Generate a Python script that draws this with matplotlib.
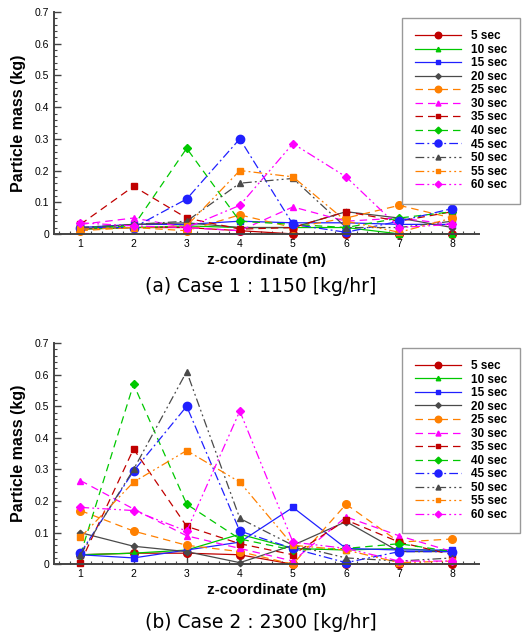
import matplotlib
matplotlib.use("Agg")
import matplotlib.pyplot as plt
from matplotlib.ticker import MultipleLocator

plt.rcParams["font.family"] = ["Liberation Sans", "DejaVu Sans"]

z = [1, 2, 3, 4, 5, 6, 7, 8]
labels = ["5 sec", "10 sec", "15 sec", "20 sec", "25 sec", "30 sec",
          "35 sec", "40 sec", "45 sec", "50 sec", "55 sec", "60 sec"]

# Case 1 : 1150 kg/hr
case1 = [
    [0.015, 0.020, 0.020, 0.010, 0.000, 0.000, 0.000, 0.000],
    [0.015, 0.020, 0.025, 0.020, 0.020, 0.020, 0.000, 0.000],
    [0.020, 0.030, 0.030, 0.040, 0.035, 0.035, 0.030, 0.030],
    [0.015, 0.030, 0.035, 0.020, 0.020, 0.070, 0.050, 0.020],
    [0.010, 0.020, 0.010, 0.060, 0.020, 0.050, 0.090, 0.050],
    [0.030, 0.050, 0.020, 0.010, 0.085, 0.040, 0.050, 0.030],
    [0.030, 0.150, 0.050, 0.015, 0.020, 0.070, 0.040, 0.070],
    [0.020, 0.025, 0.270, 0.040, 0.030, 0.020, 0.050, 0.070],
    [0.020, 0.020, 0.110, 0.300, 0.030, 0.005, 0.040, 0.080],
    [0.020, 0.030, 0.040, 0.160, 0.175, 0.020, 0.020, 0.040],
    [0.015, 0.020, 0.025, 0.200, 0.180, 0.040, 0.005, 0.050],
    [0.035, 0.025, 0.020, 0.090, 0.285, 0.180, 0.020, 0.030],
]

# Case 2 : 2300 kg/hr
case2 = [
    [0.030, 0.035, 0.035, 0.030, 0.000, 0.000, 0.000, 0.000],
    [0.030, 0.035, 0.045, 0.095, 0.050, 0.045, 0.050, 0.040],
    [0.030, 0.020, 0.045, 0.070, 0.180, 0.050, 0.045, 0.045],
    [0.100, 0.057, 0.040, 0.005, 0.060, 0.135, 0.040, 0.040],
    [0.170, 0.105, 0.060, 0.040, 0.000, 0.190, 0.070, 0.080],
    [0.265, 0.175, 0.090, 0.050, 0.010, 0.150, 0.090, 0.040],
    [0.005, 0.365, 0.120, 0.065, 0.030, 0.140, 0.070, 0.030],
    [0.030, 0.570, 0.190, 0.080, 0.045, 0.050, 0.065, 0.040],
    [0.035, 0.295, 0.500, 0.105, 0.050, 0.005, 0.040, 0.040],
    [0.030, 0.300, 0.610, 0.145, 0.060, 0.020, 0.010, 0.020],
    [0.085, 0.260, 0.360, 0.260, 0.060, 0.045, 0.005, 0.010],
    [0.180, 0.170, 0.105, 0.485, 0.070, 0.050, 0.010, 0.010],
]

captions = ["(a) Case 1 : 1150 [kg/hr]", "(b) Case 2 : 2300 [kg/hr]"]

DASH = (0, (6, 4))
DDOT = (0, (7, 2.5, 1.5, 2.5, 1.5, 2.5))
styles = [
    ("#c00000", "-", "o", 5.5), ("#00c800", "-", "^", 3.8),
    ("#2020ff", "-", "s", 3.8), ("#4a4a4a", "-", "D", 3.3),
    ("#ff8000", DASH, "o", 5.5), ("#ff00ff", DASH, "^", 4.2),
    ("#c00000", DASH, "s", 4.2), ("#00c800", DASH, "D", 4),
    ("#2020ff", (0, (7, 2.5, 1.5, 2.5)), "o", 6), ("#4a4a4a", DDOT, "^", 4.2),
    ("#ff8000", DDOT, "s", 4.2), ("#ff00ff", DDOT, "D", 4),
]

fig = plt.figure(figsize=(5.28, 6.39), dpi=100)
axes_pos = [[0.102, 0.634, 0.805, 0.347], [0.102, 0.117, 0.805, 0.346]]
legend_top = [0.972, 0.456]
caption_y = [0.551, 0.026]

for k, data in enumerate([case1, case2]):
    ax = fig.add_axes(axes_pos[k])
    for vals, lab, (c, ls, m, ms) in zip(data, labels, styles):
        ax.plot(z, vals, color=c, ls=ls, lw=0.9, marker=m, ms=ms,
                mfc=c, mec=c, label=lab, clip_on=False)
    ax.set_xlim(0.5, 8.5)
    ax.set_ylim(0, 0.7)
    ax.xaxis.set_major_locator(MultipleLocator(1))
    ax.xaxis.set_minor_locator(MultipleLocator(0.2))
    ax.yaxis.set_minor_locator(MultipleLocator(0.02))
    ax.set_yticks([0, 0.1, 0.2, 0.3, 0.4, 0.5, 0.6, 0.7])
    ax.set_yticklabels(["0", "0.1", "0.2", "0.3", "0.4", "0.5", "0.6", "0.7"])
    for s in ["top", "right"]:
        ax.spines[s].set_visible(False)
    for s in ["left", "bottom"]:
        ax.spines[s].set_color("#444444")
        ax.spines[s].set_linewidth(1.4)
    ax.tick_params(which="both", direction="in", colors="#444444", labelcolor="black",
                   labelsize=7.5)
    ax.tick_params(which="major", length=5, width=1)
    ax.tick_params(which="minor", length=2.5, width=0.8)
    ax.set_xlabel("z-coordinate (m)", fontsize=11, fontweight="bold", labelpad=3)
    ax.set_ylabel("Particle mass (kg)", fontsize=11.5, fontweight="bold", labelpad=6)
    leg = ax.legend(loc="upper right", bbox_to_anchor=(0.985, legend_top[k]),
                    bbox_transform=fig.transFigure, fancybox=False, framealpha=1,
                    edgecolor="#999999", prop={"weight": "bold", "size": 8.5},
                    handlelength=3.9, labelspacing=0.13, borderpad=1.05,
                    handletextpad=0.9, borderaxespad=0, markerscale=0.85)
    leg.get_frame().set_linewidth(1.0)
    fig.text(0.494, caption_y[k], captions[k], ha="center", va="center",
             fontsize=13.5, family=["DejaVu Sans"], color="black")

fig.savefig("out.png", dpi=100)
